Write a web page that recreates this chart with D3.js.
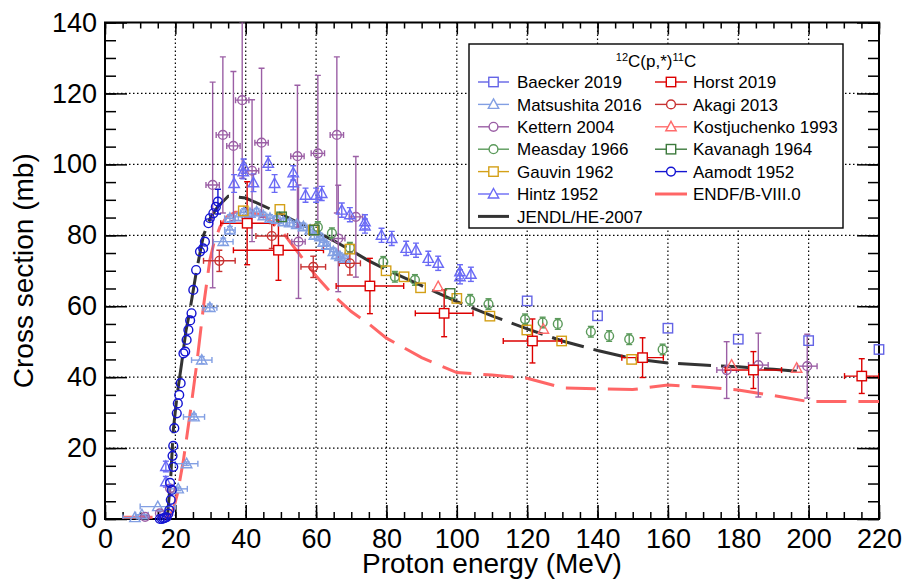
<!DOCTYPE html>
<meta charset="utf-8">
<style>
body { margin: 0; background: #fff; }
svg { font-family: "Liberation Sans", Arial, sans-serif; }
.tick text { font-size: 27px; fill: #000; }
</style>
<body>
<script src="https://d3js.org/d3.v7.min.js"></script>
<script>

// rows: [energy MeV, cross section mb, dE, dSigma]
var baecker = [[120,61.5,0,0],[140,57.3,0,0],[160,53.8,0,0],[180,50.7,0,0],[200,50.3,0,0],[220,47.8,0,0]];

var matsushita = [[8.5,0.4,3.4,0],[10.5,1.2,1.8,0],[15,3.5,5,0],[20.8,8.5,2.6,0.5],[23.2,15.6,3.2,0.5],
  [25.3,28.8,3,0.8],[27.5,44.8,2.9,1],[29.8,59.6,2,1],[33.6,78.2,2.8,1],[35.5,81.5,1.5,1],[35.5,84.8,1.5,1],
  [37.9,85.2,1.2,1],[39.5,86.5,1,1],[41.2,86.2,1,1],[43.1,86.6,1,1],[45,85.5,1,1],[46.9,84.8,1,1],
  [48.8,84.5,1,1],[50.7,83.8,1,1],[52.5,83.5,1,1],[54.5,83,1,1],[56.4,82.4,1,1],[58.3,81.5,1,1],
  [59.5,80,1,1],[61.1,79.6,1,1],[62,78,1,1],[63,77.2,1,1],[64.9,75.4,1,1],[65.8,74.5,1,1],[66.8,74,1,1],[68.2,73.5,1,1]];

var kettern = [[11.4,0.6,0,0.3],[15.6,1.6,0,0.5],[18.5,8.6,0,1],[30.6,94.2,1.9,29],[33.5,108.3,1.9,22],
  [36.5,105.2,1.9,21],[39,118.1,1.9,22],[41.8,98.2,1.9,20],[44.5,106.1,1.9,21],[54.7,102.3,1.9,20],
  [55,78.2,1.9,16],[60.5,103.1,1.9,22],[65.9,108.3,1.9,22],[66.3,79.1,1.9,15],[71.3,85.2,1.9,17],
  [176.7,42,2.8,8],[185.7,43.4,2.8,9],[199.6,43.1,2.8,9]];

var measday = [[60.5,82.3,0,1.5],[64.5,80.6,0,1.5],[69.6,76.5,0,1.5],[79.1,72.5,0,1.5],[82.4,68.3,0,1.5],
  [88.1,67.4,0,1.5],[103.8,61.8,0,1.5],[109,60.6,0,1.5],[119.4,56.3,0,1.5],[124.4,55.4,0,1.5],
  [128.7,55,0,1.5],[138.1,52.8,0,1.5],[143.3,51.6,0,1.5],[149,50.7,0,1.5],[158.5,47.8,0,1.5]];

var gauvin = [[39.3,86.9,0,0],[49.7,87.3,0,0],[59.2,81.5,0,0],[69.6,76.1,0,0],[79.9,70,0,0],[85,68.3,0,0],
  [89.7,65.2,0,0],[100,62.2,0,0],[109.4,57.2,0,0],[119.9,53.3,0,0],[129.8,50.2,0,0],[149.7,45,0,0]];

var hintz = [[17.3,14.8,0,1.5],[17.3,10.5,0,1.5],[36.7,94.6,0,2.5],[39.3,97.9,0,2],[39.4,99.5,0,2],
  [42.2,94.8,0,2.5],[46.4,100.3,0,2],[48.2,94.6,0,2.5],[53.5,97.6,0,2],[53.5,94.8,0,2],[57,91.3,0,2],
  [60,91.3,0,2],[61.6,91.8,0,2],[67.3,87.1,0,2],[69.6,85.8,0,2],[73.9,83.8,0,2],[73.9,82.6,0,2],
  [78.6,80,0,2],[81.5,79.1,0,2],[85.6,76.3,0,2],[88.4,75.8,0,2],[91.9,73.5,0,2],[94.7,72.1,0,2],
  [100.9,69.7,0,2],[100.9,68.3,0,2],[104,69,0,2]];

var horst = [[40.4,83.4,7.5,11.7],[49.3,75.8,12.8,8.5],[75.3,65.7,9.6,7.8],[96.4,58,8.2,6.6],
  [121.5,50.2,8.3,6.2],[152.8,45.5,5.9,5.6],[184.3,42,8,5.2],[215.1,40.3,4.9,4.9]];

var akagi = [[32.5,72.8,4.5,3],[47.4,79.8,4.5,3.5],[59.2,71.1,3.5,3],[69.6,72.1,3,3.3]];

var kostjuchenko = [[94.7,65.5,0,0],[124.6,53.5,0,0],[178.1,43.4,0,0],[196.6,42.5,0,0]];

var kavanagh = [[50.2,85.2,0,0],[59.5,81.5,0,0],[98.1,63.6,0,0]];

var aamodt = [[15.6,0,0,0],[16.2,0,0,0],[16.6,0.2,0,0],[17,0.3,0,0],[17.5,0.5,0,0],[18,1.5,0,0],
  [18.3,2.5,0,0],[18.7,5.4,0,0],[18.5,10.2,0,0],[19,8.2,0,0],[19.4,14.7,0,0],[19.2,17.8,0,0],
  [19.4,20.6,0,0],[19.7,25.6,0,0],[20.4,29.8,0,0],[20.7,32.6,0,0],[21.1,35,0,0],[21.5,38.3,0,0],
  [22.3,46.7,0,0],[22.8,47.2,0,0],[23.2,50.5,0,0],[23.7,53.3,0,0],[24.2,56,0,0],[24.6,58,0,0],
  [25.1,64.6,0,0],[25.9,70.2,0,0],[27,75.4,0,0],[27.9,76.3,0,0],[28.4,78.2,0,0],[29.4,83.4,0,0],
  [29.8,84.8,0,0],[30.8,86.2,0,0],[31.5,88,0,0],[32.1,89.5,0,3.5]];

// evaluated curves: [energy, cross section]
var jendl = [[17.7,0],[18.7,12],[19.4,25],[20.5,35],[21.8,44],[23,53],[24,58],[26,70],[28,80],[30,85],
  [32,88],[35,91],[40,90.5],[45,88.3],[50,86],[55,83.5],[60,81],[65,78.5],[70,75.7],[75,72.8],
  [80,70.3],[90,65.8],[100,61.3],[110,57.3],[120,53.6],[130,50.2],[140,47.5],[150,45.2],[160,44],
  [170,43.4],[180,42.9],[190,42.2],[200,41.4]];

var endf = [[5,0.5],[10,0.5],[15,0.5],[17.5,0.5],[18.5,1],[19.5,3],[20.6,7.2],[22.3,16.6],[24.2,29.8],
  [26.1,43.9],[28,60],[29.8,73],[31,78],[32.7,82.4],[34.6,85.2],[37,86.5],[40,86.6],[45,85.7],
  [50,81.5],[55,75],[60,68.5],[65,63],[70,58.5],[75,55],[80,51],[90,45.5],[100,41.3],[110,40.6],
  [120,39.7],[130,37],[140,36.7],[150,36.5],[160,37.8],[170,37.2],[180,36.4],[190,34.8],[200,33.1],[220,33.1]];

var xTicks = [0,20,40,60,80,100,120,140,160,180,200,220];
var yTicks = [0,20,40,60,80,100,120,140];

var series = [
  {name: "Baecker 2019", data: baecker, shape: "square", color: "#6464e6"},
  {name: "Matsushita 2016", data: matsushita, shape: "triangle", color: "#829fe3"},
  {name: "Kettern 2004", data: kettern, shape: "circle", color: "#9b5fa5"},
  {name: "Measday 1966", data: measday, shape: "circle", color: "#5b9a5b"},
  {name: "Gauvin 1962", data: gauvin, shape: "square", color: "#d4a017"},
  {name: "Hintz 1952", data: hintz, shape: "triangle", color: "#6a6af5"},
  {name: "Horst 2019", data: horst, shape: "square", color: "#dd0000", fill: "#fff"},
  {name: "Akagi 2013", data: akagi, shape: "circle", color: "#c83232"},
  {name: "Kostjuchenko 1993", data: kostjuchenko, shape: "triangle", color: "#ff6b6b"},
  {name: "Kavanagh 1964", data: kavanagh, shape: "square", color: "#3d7a3d"},
  {name: "Aamodt 1952", data: aamodt, shape: "circle", color: "#1414d2"}
];
var curves = [
  {name: "JENDL/HE-2007", data: jendl, color: "#333333", dash: "33,10"},
  {name: "ENDF/B-VIII.0", data: endf, color: "#ff6666", dash: "30,12"}
];

var width = 904, height = 581;
var pL = 105, pR = 879, pT = 22.5, pB = 519;

var x = d3.scaleLinear().domain([0, 220]).range([pL, pR]);
var y = d3.scaleLinear().domain([0, 140]).range([pB, pT]);

var svg = d3.select("body").append("svg")
    .attr("width", width)
    .attr("height", height);

svg.append("rect").attr("width", width).attr("height", height).attr("fill", "#fff");

svg.append("clipPath").attr("id", "plotclip")
  .append("rect").attr("x", pL).attr("y", pT).attr("width", pR - pL).attr("height", pB - pT);

// grid
var grid = svg.append("g").attr("stroke", "#000").attr("stroke-width", 1.2).attr("stroke-dasharray", "1.5,2.5");
xTicks.slice(1, -1).forEach(function(t) {
  grid.append("line").attr("x1", x(t)).attr("x2", x(t)).attr("y1", pT).attr("y2", pB);
});
yTicks.slice(1, -1).forEach(function(t) {
  grid.append("line").attr("x1", pL).attr("x2", pR).attr("y1", y(t)).attr("y2", y(t));
});

// axes: major + minor ticks on all four sides
function minor(step, max) { return d3.range(0, max + 0.01, step); }

svg.append("g").attr("transform", "translate(0," + pB + ")")
  .call(d3.axisBottom(x).tickValues(minor(5, 220)).tickSize(-7).tickFormat(""));
svg.append("g").attr("transform", "translate(0," + pB + ")")
  .call(d3.axisBottom(x).tickValues(xTicks).tickSize(-14).tickPadding(10).tickFormat(d3.format("d")));
svg.append("g").attr("transform", "translate(0," + pT + ")")
  .call(d3.axisTop(x).tickValues(minor(5, 220)).tickSize(-6).tickFormat(""));
svg.append("g").attr("transform", "translate(0," + pT + ")")
  .call(d3.axisTop(x).tickValues(xTicks).tickSize(-12).tickFormat(""));

svg.append("g").attr("transform", "translate(" + pL + ",0)")
  .call(d3.axisLeft(y).tickValues(minor(5, 140)).tickSize(-11).tickFormat(""));
svg.append("g").attr("transform", "translate(" + pL + ",0)")
  .call(d3.axisLeft(y).tickValues(yTicks).tickSize(-22).tickPadding(8).tickFormat(d3.format("d")));
svg.append("g").attr("transform", "translate(" + pR + ",0)")
  .call(d3.axisRight(y).tickValues(minor(5, 140)).tickSize(-11).tickFormat(""));
svg.append("g").attr("transform", "translate(" + pR + ",0)")
  .call(d3.axisRight(y).tickValues(yTicks).tickSize(-22).tickFormat(""));

svg.selectAll(".domain").remove();
svg.selectAll(".tick line").attr("stroke", "#000").attr("stroke-width", 1.5);

svg.append("rect")
  .attr("x", pL).attr("y", pT).attr("width", pR - pL).attr("height", pB - pT)
  .attr("fill", "none").attr("stroke", "#000").attr("stroke-width", 2);

// axis titles
svg.append("text")
  .attr("x", (pL + pR) / 2).attr("y", 573)
  .attr("text-anchor", "middle").attr("font-size", 28)
  .text("Proton energy (MeV)");
svg.append("text")
  .attr("transform", "translate(33," + (pT + pB) / 2 + ") rotate(-90)")
  .attr("text-anchor", "middle").attr("font-size", 28)
  .text("Cross section (mb)");

// curves
var line = d3.line().x(function(d) { return x(d[0]); }).y(function(d) { return y(d[1]); });
var curveG = svg.append("g").attr("clip-path", "url(#plotclip)");
curves.forEach(function(c) {
  curveG.append("path").datum(c.data)
    .attr("d", line)
    .attr("fill", "none")
    .attr("stroke", c.color)
    .attr("stroke-width", 3)
    .attr("stroke-dasharray", c.dash);
});

// markers
function drawMarker(g, shape, cx, cy, color, fill) {
  if (shape === "square") {
    g.append("rect").attr("x", cx - 4.7).attr("y", cy - 4.7).attr("width", 9.4).attr("height", 9.4)
      .attr("fill", fill || "none").attr("stroke", color).attr("stroke-width", 1.4);
  } else if (shape === "circle") {
    g.append("circle").attr("cx", cx).attr("cy", cy).attr("r", 4.4)
      .attr("fill", fill || "none").attr("stroke", color).attr("stroke-width", 1.4);
  } else {
    g.append("path")
      .attr("d", "M" + cx + "," + (cy - 5.5) + "L" + (cx + 5.2) + "," + (cy + 4) + "L" + (cx - 5.2) + "," + (cy + 4) + "Z")
      .attr("fill", fill || "none").attr("stroke", color).attr("stroke-width", 1.4);
  }
}

var errG = svg.append("g").attr("clip-path", "url(#plotclip)");
var markG = svg.append("g");

series.forEach(function(s) {
  s.data.forEach(function(d) {
    var cx = x(d[0]), cy = y(d[1]);
    if (d[3] > 0) {
      var y1 = y(d[1] - d[3]), y2 = y(d[1] + d[3]);
      errG.append("line").attr("x1", cx).attr("x2", cx).attr("y1", y1).attr("y2", y2)
        .attr("stroke", s.color).attr("stroke-width", 1.4);
      [y1, y2].forEach(function(yy) {
        errG.append("line").attr("x1", cx - 3).attr("x2", cx + 3).attr("y1", yy).attr("y2", yy)
          .attr("stroke", s.color).attr("stroke-width", 1.4);
      });
    }
    if (d[2] > 0) {
      var x1 = x(d[0] - d[2]), x2 = x(d[0] + d[2]);
      errG.append("line").attr("x1", x1).attr("x2", x2).attr("y1", cy).attr("y2", cy)
        .attr("stroke", s.color).attr("stroke-width", 1.4);
      [x1, x2].forEach(function(xx) {
        errG.append("line").attr("x1", xx).attr("x2", xx).attr("y1", cy - 3).attr("y2", cy + 3)
          .attr("stroke", s.color).attr("stroke-width", 1.4);
      });
    }
    drawMarker(markG, s.shape, cx, cy, s.color, s.fill);
  });
});

// legend
var leg = svg.append("g");
leg.append("rect").attr("x", 469).attr("y", 44).attr("width", 374).attr("height", 184)
  .attr("fill", "#fff").attr("stroke", "#000").attr("stroke-width", 1.4);

var head = leg.append("text").attr("x", 656).attr("y", 67).attr("text-anchor", "middle").attr("font-size", 17);
head.append("tspan").attr("font-size", 11).attr("dy", -6).text("12");
head.append("tspan").attr("dy", 6).text("C(p,*)");
head.append("tspan").attr("font-size", 11).attr("dy", -6).text("11");
head.append("tspan").attr("dy", 6).text("C");

var col1 = ["Baecker 2019", "Matsushita 2016", "Kettern 2004", "Measday 1966", "Gauvin 1962", "Hintz 1952", "JENDL/HE-2007"];
var col2 = ["Horst 2019", "Akagi 2013", "Kostjuchenko 1993", "Kavanagh 1964", "Aamodt 1952", "ENDF/B-VIII.0"];
var all = series.concat(curves);
function find(n) { return all.filter(function(s) { return s.name === n; })[0]; }

[[col1, 478, 509, 517], [col2, 655, 687, 693]].forEach(function(col) {
  col[0].forEach(function(n, i) {
    var s = find(n), cy = 82 + i * 22.4;
    leg.append("line").attr("x1", col[1]).attr("x2", col[2]).attr("y1", cy).attr("y2", cy)
      .attr("stroke", s.color).attr("stroke-width", s.shape ? 1.4 : 3);
    if (s.shape) drawMarker(leg, s.shape, (col[1] + col[2]) / 2, cy, s.color, "#fff");
    leg.append("text").attr("x", col[3]).attr("y", cy + 6.2).attr("font-size", 17).text(n);
  });
});

</script>
</body>
